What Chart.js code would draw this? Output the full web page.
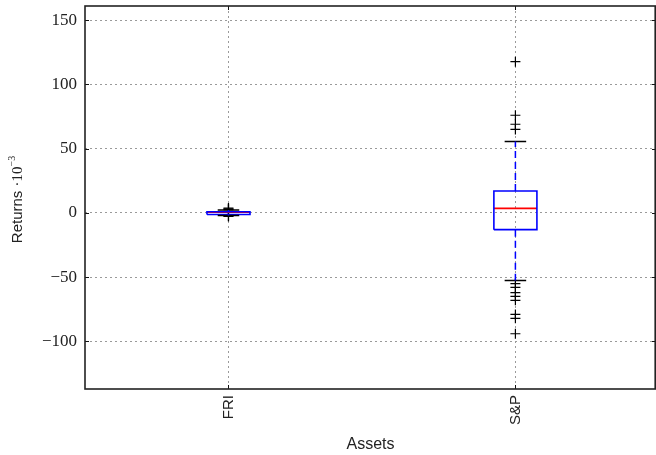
<!DOCTYPE html>
<html>
<head>
<meta charset="utf-8">
<script src="https://cdn.jsdelivr.net/npm/chart.js@4.4.1/dist/chart.umd.min.js"></script>
<style>
  html, body { margin: 0; padding: 0; background: #fff; }
  #wrap { width: 656px; height: 455px; }
</style>
</head>
<body>
<div id="wrap"><canvas id="c" width="656" height="455"></canvas></div>
<script>
// Box-plot statistics of daily returns (in units of 10^-3)
const categories   = ['FRI', 'S&P'];
const positions    = [1, 2];
const whiskerLow   = [-2.0, -52.6];
const quartile1    = [-1.2, -13.0];
const medians      = [0.6, 3.5];
const quartile3    = [0.9, 17.0];
const whiskerHigh  = [2.2, 55.5];
const fliers = [
  [3.8, 3.2, 2.6, -2.4, -2.8],
  [117.7, 76, 69, 65, -55, -58, -62, -65, -68, -79, -82, -94]
];
const yTicks = [-100, -50, 0, 50, 100, 150];

const BOX_HALF = 0.075;   // half box width in x units
const CAP_HALF = 0.0375;  // half cap width in x units

const gap = { x: NaN, y: NaN };

// build line segments from the statistics
const boxPts = [], medPts = [], whiskPts = [], capPts = [], flierPts = [];
positions.forEach((p, i) => {
  boxPts.push({x: p - BOX_HALF, y: quartile1[i]}, {x: p + BOX_HALF, y: quartile1[i]},
              {x: p + BOX_HALF, y: quartile3[i]}, {x: p - BOX_HALF, y: quartile3[i]},
              {x: p - BOX_HALF, y: quartile1[i]}, gap);
  medPts.push({x: p - BOX_HALF, y: medians[i]}, {x: p + BOX_HALF, y: medians[i]}, gap);
  whiskPts.push({x: p, y: quartile3[i]}, {x: p, y: whiskerHigh[i]}, gap,
                {x: p, y: quartile1[i]}, {x: p, y: whiskerLow[i]}, gap);
  capPts.push({x: p - CAP_HALF, y: whiskerHigh[i]}, {x: p + CAP_HALF, y: whiskerHigh[i]}, gap,
              {x: p - CAP_HALF, y: whiskerLow[i]}, {x: p + CAP_HALF, y: whiskerLow[i]}, gap);
  fliers[i].forEach(v => flierPts.push({x: p, y: v}));
});

const lineDs = (data, color, width, dash) => ({
  data, showLine: true, spanGaps: false, borderColor: color, borderWidth: width,
  borderDash: dash || [], pointRadius: 0, fill: false, tension: 0
});

const fmt = v => (v < 0 ? '\u2212' + Math.abs(v) : String(v));

// frame with inward ticks
const framePlugin = {
  id: 'frame',
  afterDraw(chart) {
    const {ctx, chartArea: a, scales} = chart;
    ctx.save();
    ctx.strokeStyle = '#111';
    ctx.lineWidth = 1;
    scales.y.ticks.forEach(t => {
      const y = Math.round(scales.y.getPixelForValue(t.value)) + 0.5;
      ctx.beginPath();
      ctx.moveTo(a.left, y); ctx.lineTo(a.left + 4, y);
      ctx.moveTo(a.right, y); ctx.lineTo(a.right - 4, y);
      ctx.stroke();
    });
    scales.x.ticks.forEach(t => {
      const x = Math.round(scales.x.getPixelForValue(t.value)) + 0.5;
      ctx.beginPath();
      ctx.moveTo(x, a.bottom); ctx.lineTo(x, a.bottom - 4);
      ctx.moveTo(x, a.top); ctx.lineTo(x, a.top + 4);
      ctx.stroke();
    });
    ctx.strokeStyle = '#222';
    ctx.lineWidth = 1.6;
    ctx.strokeRect(a.left, a.top, a.right - a.left - 0.8, a.bottom - a.top);
    ctx.restore();
  }
};

// y axis label with a superscript exponent
const yLabelPlugin = {
  id: 'ylabel',
  afterDraw(chart) {
    const {ctx, chartArea: a} = chart;
    const parts = [
      {t: 'Returns ', f: '15px "Liberation Sans"', dy: 0},
      {t: '\u00B710', f: '15px "Liberation Serif"', dy: 0},
      {t: '\u22123', f: '10px "Liberation Serif"', dy: -6}
    ];
    ctx.save();
    let total = 0;
    parts.forEach(p => { ctx.font = p.f; p.w = ctx.measureText(p.t).width; total += p.w; });
    ctx.translate(18, (a.top + a.bottom) / 2 + 2);
    ctx.rotate(-Math.PI / 2);
    ctx.fillStyle = '#222';
    ctx.textBaseline = 'middle';
    let x = -total / 2;
    parts.forEach(p => { ctx.font = p.f; ctx.fillText(p.t, x, p.dy); x += p.w; });
    ctx.restore();
  }
};

new Chart(document.getElementById('c'), {
  type: 'scatter',
  data: {
    datasets: [
      lineDs(whiskPts, '#0000ff', 1.5, [7, 4]),
      lineDs(capPts, '#000000', 1.5),
      lineDs(boxPts, '#0000ff', 1.6),
      lineDs(medPts, '#ff0000', 1.6),
      {
        data: flierPts, showLine: false, pointStyle: 'cross', pointRadius: 5,
        borderColor: '#000', borderWidth: 1.2, backgroundColor: '#000'
      }
    ]
  },
  options: {
    responsive: false,
    animation: false,
    events: [],
    layout: { autoPadding: false, padding: { top: 6, right: 0, left: 0, bottom: 0 } },
    plugins: { legend: { display: false }, tooltip: { enabled: false } },
    scales: {
      x: {
        type: 'linear', min: 0.5, max: 2.49,
        afterBuildTicks: s => { s.ticks = positions.map(v => ({value: v})); },
        afterFit: s => { s.height = 66; s.paddingLeft = 0; s.paddingRight = 0; },
        ticks: {
          includeBounds: false, minRotation: 90, maxRotation: 90, padding: 6,
          color: '#222', font: { family: 'Liberation Sans', size: 15 },
          callback: v => categories[positions.indexOf(v)] ?? ''
        },
        grid: { color: '#9a9a9a', lineWidth: 1, drawTicks: false },
        border: { display: false, dash: [2, 3] },
        title: {
          display: true, text: 'Assets', color: '#222',
          font: { family: 'Liberation Sans', size: 16 }, padding: { top: 0, bottom: 1 }
        }
      },
      y: {
        type: 'linear', min: -137, max: 161,
        afterBuildTicks: s => { s.ticks = yTicks.map(v => ({value: v})); },
        afterFit: s => { s.width = 85; s.paddingTop = 0; s.paddingBottom = 0; },
        ticks: {
          includeBounds: false, padding: 8, color: '#222',
          font: { family: 'Liberation Serif', size: 17 },
          callback: v => fmt(v)
        },
        grid: { color: '#9a9a9a', lineWidth: 1, drawTicks: false },
        border: { display: false, dash: [2, 3] }
      }
    }
  },
  plugins: [framePlugin, yLabelPlugin]
});
</script>
</body>
</html>
